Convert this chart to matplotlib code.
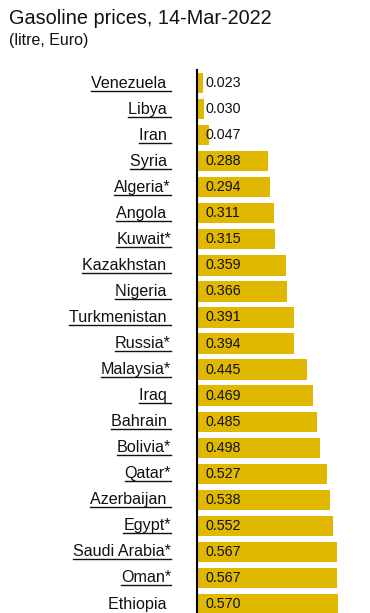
import matplotlib.pyplot as plt
from matplotlib.lines import Line2D
from matplotlib.transforms import offset_copy

plt.rcParams["font.family"] = ["Liberation Sans", "DejaVu Sans"]

countries = ["Venezuela ", "Libya ", "Iran ", "Syria ", "Algeria*", "Angola ",
             "Kuwait*", "Kazakhstan ", "Nigeria ", "Turkmenistan ", "Russia*",
             "Malaysia*", "Iraq ", "Bahrain ", "Bolivia*", "Qatar*", "Azerbaijan ",
             "Egypt*", "Saudi Arabia*", "Oman*", "Ethiopia "]
prices = [0.023, 0.030, 0.047, 0.288, 0.294, 0.311, 0.315, 0.359, 0.366, 0.391,
          0.394, 0.445, 0.469, 0.485, 0.498, 0.527, 0.538, 0.552, 0.567, 0.567,
          0.570]
price_labels = [f"{p:.3f}" for p in prices]

W, H = 370, 613
fig = plt.figure(figsize=(W / 100, H / 100), dpi=100)

# axes in pixel terms: left edge at x=197, top at y=70, runs off the bottom
ax = fig.add_axes([197 / W, 0, (W - 197) / W, (H - 70) / H])
ypos = list(range(len(countries)))
ax.barh(ypos, prices, height=0.78, color="#E0B800", zorder=2)
ax.set_xlim(0, 0.70)
row_px = 26.05
ax.set_ylim(-0.5 + (H - 70) / row_px, -0.5)

for s in ["top", "right", "bottom"]:
    ax.spines[s].set_visible(False)
ax.spines["left"].set_linewidth(1.5)
ax.spines["left"].set_zorder(3)
ax.set_xticks([])
ax.set_yticks([])

val_tr = offset_copy(ax.get_yaxis_transform(), fig=fig, x=8, y=0, units="dots")
lab_tr = offset_copy(ax.get_yaxis_transform(), fig=fig, x=-26, y=0, units="dots")

labels = []
for y, name, v in zip(ypos, countries, price_labels):
    ax.text(0, y, v, transform=val_tr, ha="left", va="center", fontsize=10.3,
            color="#111111", zorder=4)
    t = ax.text(0, y, name, transform=lab_tr, ha="right", va="center",
                fontsize=11.6, color="#111111")
    labels.append((y, t))

fig.text(9 / W, 1 - 19 / H, "Gasoline prices, 14-Mar-2022", fontsize=14.3,
         ha="left", va="center", color="#111111")
fig.text(9 / W, 1 - 41 / H, "(litre, Euro)", fontsize=11.5,
         ha="left", va="center", color="#111111")

# underline the country names
fig.canvas.draw()
r = fig.canvas.get_renderer()
for y, t in labels[:-1]:
    bb = t.get_window_extent(r)
    yc = ax.transData.transform((0, y))[1]
    yl = (yc - 7.5) / H
    fig.add_artist(Line2D([bb.x0 / W, bb.x1 / W], [yl, yl], color="#111111",
                          linewidth=1.0))

fig.savefig("out.png", dpi=100)
